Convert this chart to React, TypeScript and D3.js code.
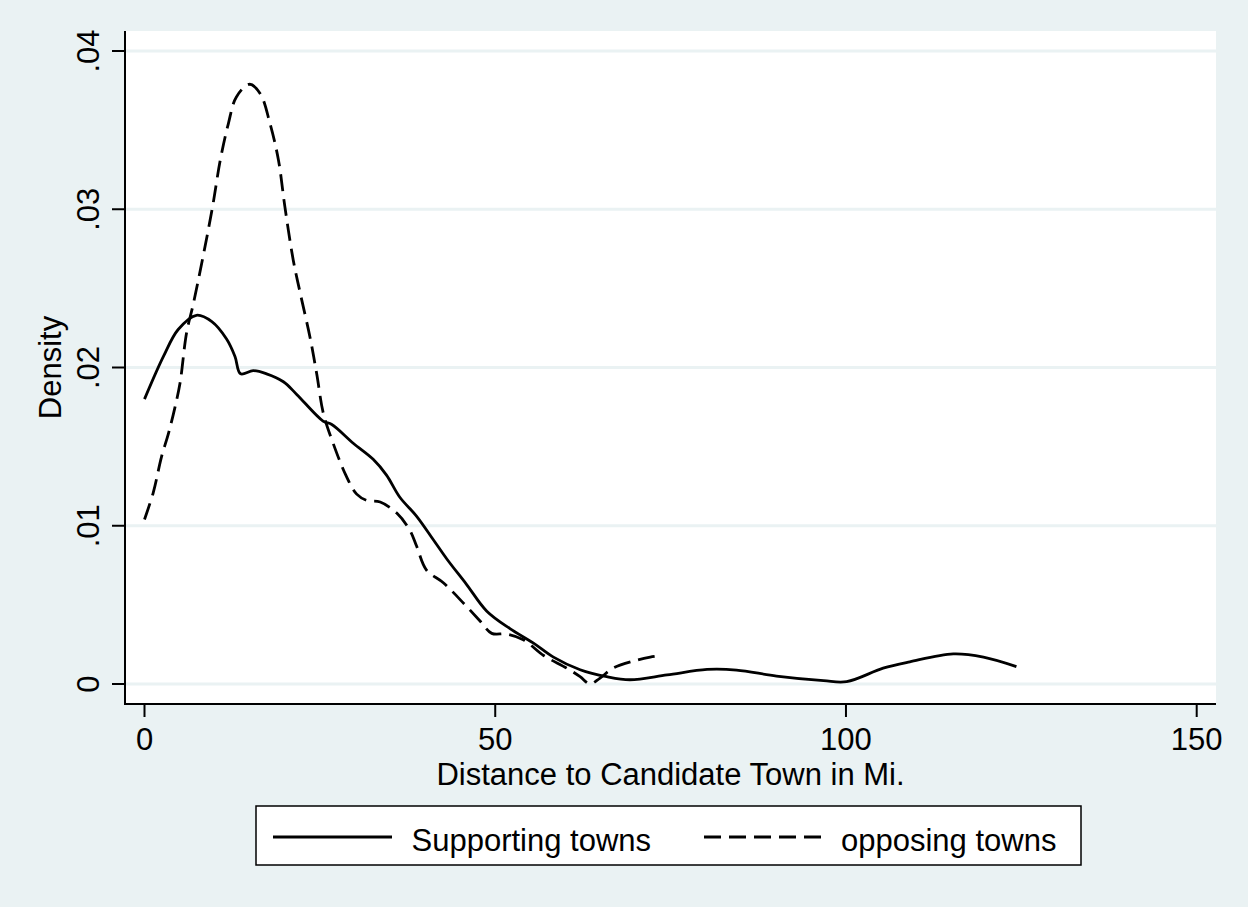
import React from "react";
import * as d3 from "d3";

const supportX = [0, 2.7, 4.8, 7.4, 9.6, 11.7, 12.9, 13.7, 15.5, 17.4, 19.8, 21.7, 25.5, 26.7, 29.8, 32.6, 34.5, 36.4, 38.8, 41.2, 43.1, 45.9, 48.8, 52.1, 55.4, 58.3, 62.1, 65.9, 69.2, 74.5, 80.2, 84.4, 90.1, 96.8, 100.1, 105.3, 109.1, 115.3, 119.6, 124.3];
const supportY = [0.018, 0.0207, 0.0224, 0.0233, 0.0229, 0.0218, 0.0207, 0.0196, 0.0198, 0.0196, 0.0191, 0.0183, 0.0166, 0.0164, 0.0152, 0.0142, 0.0132, 0.0118, 0.0106, 0.0091, 0.0079, 0.0063, 0.0046, 0.0035, 0.0026, 0.0017, 0.0009, 0.00046, 0.00027, 0.00057, 0.00092, 0.00088, 0.0005, 0.00021, 0.00015, 0.001, 0.0014, 0.0019, 0.0017, 0.0011];

const opposeX = [0, 1.25, 2.45, 3.4, 4.35, 5.06, 6.0, 7.0, 9.6, 10.8, 11.95, 13.1, 15.0, 16.5, 17.9, 19.1, 20.0, 21.2, 22.3, 23.6, 24.55, 25.5, 26.9, 28.7, 30.25, 31.7, 33.6, 35.96, 37.85, 38.8, 40.2, 42.6, 45.7, 47.8, 49.5, 51.6, 54.0, 56.9, 60.2, 62.1, 63.5, 64.9, 66.8, 69.7, 72.1, 73.7];
const opposeY = [0.0104, 0.0121, 0.0144, 0.0158, 0.0175, 0.019, 0.0222, 0.0241, 0.0299, 0.0331, 0.0354, 0.0371, 0.0379, 0.0373, 0.0354, 0.0331, 0.0302, 0.0268, 0.0245, 0.0219, 0.0196, 0.0171, 0.0152, 0.0132, 0.012, 0.0116, 0.0115, 0.0108, 0.0097, 0.0087, 0.0072, 0.0064, 0.005, 0.004, 0.0032, 0.00316, 0.0028, 0.0018, 0.001, 0.00046, 0.0, 0.00036, 0.001, 0.00145, 0.0017, 0.0018];

const xTicks = [0, 50, 100, 150];
const xTickLabels = ["0", "50", "100", "150"];
const yTicks = [0, 0.01, 0.02, 0.03, 0.04];
const yTickLabels = ["0", ".01", ".02", ".03", ".04"];
const seriesNames = ["Supporting towns", "opposing towns"];
const xTitle = "Distance to Candidate Town in Mi.";
const yTitle = "Density";

const W = 1248;
const H = 907;
const BG = "#eaf2f3";
const FONT = "'Liberation Sans', Arial, sans-serif";
const FS = 31;

export default function App() {
  const left = 125, right = 1216, top = 31, bottom = 704;
  const x = d3.scaleLinear().domain([0, 150]).range([144.5, 1196.7]);
  const y = d3.scaleLinear().domain([0, 0.04]).range([684, 51]);

  const line = d3
    .line<[number, number]>()
    .x((d) => x(d[0]))
    .y((d) => y(d[1]))
    .curve(d3.curveCatmullRom.alpha(0.5));

  const sData = supportX.map((v, i) => [v, supportY[i]] as [number, number]);
  const oData = opposeX.map((v, i) => [v, opposeY[i]] as [number, number]);

  return (
    <svg width={W} height={H} style={{ position: "absolute", left: 0, top: 0 }} fontFamily={FONT}>
      <rect x={0} y={0} width={W} height={H} fill={BG} />
      <rect x={left} y={top} width={right - left} height={bottom - top} fill="#fff" />
      {yTicks.map((t) => (
        <line key={"g" + t} x1={left} x2={right} y1={y(t)} y2={y(t)} stroke={BG} strokeWidth={3} />
      ))}
      <path d={line(sData) || ""} fill="none" stroke="#000" strokeWidth={2.8} strokeLinejoin="round" />
      <path d={line(oData) || ""} fill="none" stroke="#000" strokeWidth={2.8} strokeDasharray="17,8" />
      <line x1={left} x2={left} y1={top} y2={bottom + 1} stroke="#000" strokeWidth={2} />
      <line x1={left} x2={right} y1={bottom} y2={bottom} stroke="#000" strokeWidth={2} />
      {yTicks.map((t, i) => (
        <g key={"y" + t}>
          <line x1={112} x2={left} y1={y(t)} y2={y(t)} stroke="#000" strokeWidth={2} />
          <text
            transform={`translate(99,${y(t)}) rotate(-90)`}
            textAnchor="middle"
            fontSize={FS}
            fill="#000"
          >
            {yTickLabels[i]}
          </text>
        </g>
      ))}
      {xTicks.map((t, i) => (
        <g key={"x" + t}>
          <line x1={x(t)} x2={x(t)} y1={bottom} y2={717} stroke="#000" strokeWidth={2} />
          <text x={x(t)} y={750} textAnchor="middle" fontSize={FS} fill="#000">
            {xTickLabels[i]}
          </text>
        </g>
      ))}
      <text x={(left + right) / 2} y={785} textAnchor="middle" fontSize={FS} fill="#000">
        {xTitle}
      </text>
      <text
        transform={`translate(61,${(top + bottom) / 2}) rotate(-90)`}
        textAnchor="middle"
        fontSize={FS}
        fill="#000"
      >
        {yTitle}
      </text>
      <rect x={256} y={806} width={825} height={59} fill="#fff" stroke="#000" strokeWidth={1.5} />
      <line x1={273} x2={392} y1={837} y2={837} stroke="#000" strokeWidth={2.8} />
      <text x={411.5} y={851} fontSize={FS} fill="#000">
        {seriesNames[0]}
      </text>
      <line x1={704} x2={822} y1={837} y2={837} stroke="#000" strokeWidth={2.8} strokeDasharray="17,8" />
      <text x={841} y={851} fontSize={FS} fill="#000">
        {seriesNames[1]}
      </text>
    </svg>
  );
}
